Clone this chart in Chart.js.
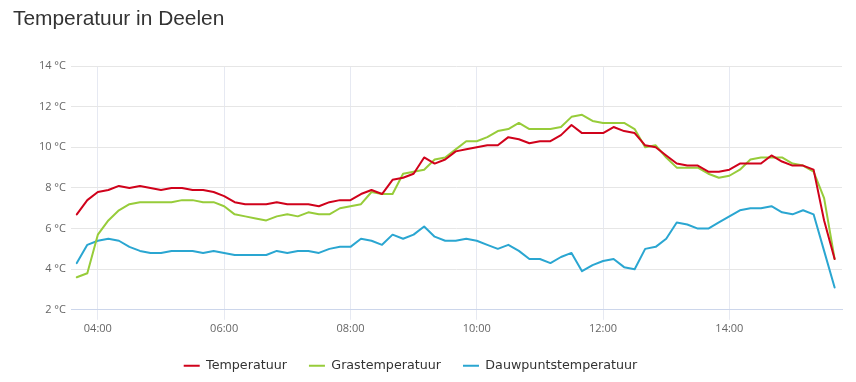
<!DOCTYPE html>
<html><head><meta charset="utf-8">
<script src="https://cdn.jsdelivr.net/npm/chart.js@4.4.1/dist/chart.umd.min.js"></script>
<style>html,body{margin:0;padding:0;background:#fff}#wrap{width:856px;height:382px}</style>
</head><body><div id="wrap"><canvas id="c" width="856" height="382"></canvas></div>
<script>
const times = ['03:40','03:50','04:00','04:10','04:20','04:30','04:40','04:50','05:00','05:10',
 '05:20','05:30','05:40','05:50','06:00','06:10','06:20','06:30','06:40','06:50',
 '07:00','07:10','07:20','07:30','07:40','07:50','08:00','08:10','08:20','08:30',
 '08:40','08:50','09:00','09:10','09:20','09:30','09:40','09:50','10:00','10:10',
 '10:20','10:30','10:40','10:50','11:00','11:10','11:20','11:30','11:40','11:50',
 '12:00','12:10','12:20','12:30','12:40','12:50','13:00','13:10','13:20','13:30',
 '13:40','13:50','14:00','14:10','14:20','14:30','14:40','14:50','15:00','15:10',
 '15:20','15:30','15:40'];
const temperatuur = [6.7,7.4,7.8,7.9,8.1,8.0,8.1,8.0,7.9,8.0,
 8.0,7.9,7.9,7.8,7.6,7.3,7.2,7.2,7.2,7.3,
 7.2,7.2,7.2,7.1,7.3,7.4,7.4,7.7,7.9,7.7,
 8.4,8.5,8.7,9.5,9.2,9.4,9.8,9.9,10.0,10.1,
 10.1,10.5,10.4,10.2,10.3,10.3,10.6,11.1,10.7,10.7,
 10.7,11.0,10.8,10.7,10.1,10.0,9.6,9.2,9.1,9.1,
 8.8,8.8,8.9,9.2,9.2,9.2,9.6,9.3,9.1,9.1,
 8.9,6.4,4.5];
const grastemperatuur = [3.6,3.8,5.7,6.4,6.9,7.2,7.3,7.3,7.3,7.3,
 7.4,7.4,7.3,7.3,7.1,6.7,6.6,6.5,6.4,6.6,
 6.7,6.6,6.8,6.7,6.7,7.0,7.1,7.2,7.8,7.7,
 7.7,8.7,8.8,8.9,9.4,9.5,9.9,10.3,10.3,10.5,
 10.8,10.9,11.2,10.9,10.9,10.9,11.0,11.5,11.6,11.3,
 11.2,11.2,11.2,10.9,10.0,10.1,9.5,9.0,9.0,9.0,
 8.7,8.5,8.6,8.9,9.4,9.5,9.5,9.5,9.2,9.1,
 8.8,7.5,4.5];
const dauwpuntstemperatuur = [4.3,5.2,5.4,5.5,5.4,5.1,4.9,4.8,4.8,4.9,
 4.9,4.9,4.8,4.9,4.8,4.7,4.7,4.7,4.7,4.9,
 4.8,4.9,4.9,4.8,5.0,5.1,5.1,5.5,5.4,5.2,
 5.7,5.5,5.7,6.1,5.6,5.4,5.4,5.5,5.4,5.2,
 5.0,5.2,4.9,4.5,4.5,4.3,4.6,4.8,3.9,4.2,
 4.4,4.5,4.1,4.0,5.0,5.1,5.5,6.3,6.2,6.0,
 6.0,6.3,6.6,6.9,7.0,7.0,7.1,6.8,6.7,6.9,
 6.7,4.9,3.1];
const seriesNames = ['Temperatuur','Grastemperatuur','Dauwpuntstemperatuur'];
const xTickLabels = ['04:00','06:00','08:00','10:00','12:00','14:00'];
const yTickValues = [2,4,6,8,10,12,14];

const toMin = s => { const p = s.split(':').map(Number); return p[0]*60 + p[1]; };
const toPoints = arr => times.map((t,i) => ({x: toMin(t), y: arr[i]}));
const colors = ['#d0021b','#97cc3a','#2aa6d1'];
const seriesData = [temperatuur, grastemperatuur, dauwpuntstemperatuur];

const tickFont = {family:'Open Sans', size:11};

const shiftLegend = {
  id: 'shiftLegend',
  afterLayout(chart) {
    const lg = chart.legend;
    if (lg) { lg.left -= 17; lg.right -= 17; }
  }
};

new Chart(document.getElementById('c').getContext('2d'), {
  type: 'line',
  data: {
    datasets: seriesData.map((arr,i) => ({
      label: seriesNames[i],
      data: toPoints(arr),
      borderColor: colors[i],
      backgroundColor: colors[i],
      borderWidth: 2,
      pointRadius: 0,
      pointHoverRadius: 0,
      fill: false,
      tension: 0,
      borderJoinStyle: 'round',
      borderCapStyle: 'round'
    }))
  },
  plugins: [shiftLegend],
  options: {
    responsive: false,
    animation: false,
    layout: {padding: {left: 13, right: 14, top: 0, bottom: 0}},
    plugins: {
      title: {
        display: true, text: 'Temperatuur in Deelen', align: 'start', color: '#333',
        font: {family: 'Liberation Sans', size: 20.9, weight: 'normal'},
        padding: {top: 7, bottom: 34}
      },
      legend: {
        position: 'bottom', maxHeight: 46.5,
        labels: {
          usePointStyle: true, pointStyle: 'line', pointStyleWidth: 16, padding: 22,
          color: '#333', font: {family: 'DejaVu Sans', size: 12.7}
        }
      },
      tooltip: {enabled: false}
    },
    scales: {
      x: {
        type: 'linear', min: 214.5, max: 947,
        afterFit: s => { s.height = 27.5; },
        afterBuildTicks: s => { s.ticks = xTickLabels.map(l => ({value: toMin(l)})); },
        ticks: {
          autoSkip: false, maxRotation: 0, padding: 2, color: '#666', font: tickFont,
          callback: v => { const l = xTickLabels.find(t => toMin(t) === v); return l || ''; }
        },
        grid: {color: '#e6e9f2', tickColor: '#e6e9f2', tickLength: 10, drawTicks: true},
        border: {color: '#ccd6eb'}
      },
      y: {
        min: 2, max: 14,
        afterFit: s => { s.width = 58; },
        afterBuildTicks: s => { s.ticks = yTickValues.map(v => ({value: v})); },
        ticks: {padding: 5, color: '#666', font: tickFont, callback: v => v + ' °C'},
        grid: {color: '#e6e6e6', drawTicks: false},
        border: {display: false}
      }
    }
  }
});
</script>
</body></html>
